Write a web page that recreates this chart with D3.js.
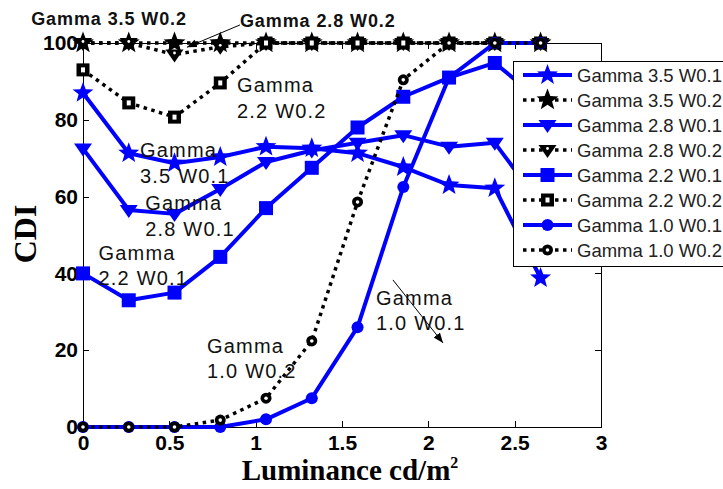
<!DOCTYPE html>
<html>
<head>
<meta charset="utf-8">
<script src="https://cdn.jsdelivr.net/npm/d3@7"></script>
<style>
body { margin: 0; background: #fff; }
text { font-family: Arial, "Liberation Sans", sans-serif; }
.axis path, .axis line { stroke: #000; stroke-width: 1px; shape-rendering: crispEdges; }
.axis text { font-size: 21px; font-weight: bold; fill: #000; }
.title { font-family: "Liberation Serif", "Times New Roman", serif; font-weight: bold; }
</style>
</head>
<body>
<div id="chart-area"></div>
<script>
// values
var luminance = [0, 0.265, 0.53, 0.795, 1.06, 1.325, 1.59, 1.855, 2.12, 2.385, 2.65];

var g35w1 = [87, 71.3, 68.7, 70.3, 73, 72.6, 71.3, 67.7, 63, 62.2, 38.8];
var g35w2 = [100, 100, 100, 100, 100, 100, 100, 100, 100, 100, 100];
var g28w1 = [72.5, 56.5, 55.5, 62, 69, 72, 74, 76, 73, 74, 58];
var g28w2 = [100, 100, 97, 99, 100, 100, 100, 100, 100, 100, 100];
var g22w1 = [40, 33, 35, 44.3, 57, 67.5, 78, 86, 91, 94.8, 85];
var g22w2 = [93, 84.4, 80.7, 89.6, 100, 100, 100, 100, 100, 100, 100];
var g10w1 = [0, 0, 0, 0, 2, 7.5, 26, 62.5, 91, 100, 100];
var g10w2 = [0, 0, 0, 1.8, 7.5, 22.4, 58.6, 90.4, 100, 100, 100];

var seriesNames = ["Gamma 3.5 W0.1", "Gamma 3.5 W0.2", "Gamma 2.8 W0.1", "Gamma 2.8 W0.2",
	"Gamma 2.2 W0.1", "Gamma 2.2 W0.2", "Gamma 1.0 W0.1", "Gamma 1.0 W0.2"];
var seriesValues = [g35w1, g35w2, g28w1, g28w2, g22w1, g22w2, g10w1, g10w2];
var seriesMarkers = ["star", "star", "tri", "tri", "square", "square", "circle", "circle"];

var xTicks = [0, 0.5, 1, 1.5, 2, 2.5, 3];
var yTicks = [0, 20, 40, 60, 80, 100];

// text labels placed in data units
var notes = [
	{ lines: ["Gamma 3.5 W0.2"], x: -0.3, y: 104.7, bold: true },
	{ lines: ["Gamma 2.8 W0.2"], x: 0.909, y: 104.2, bold: true },
	{ lines: ["Gamma", "2.2 W0.2"], x: 0.892, y: 87.2 },
	{ lines: ["Gamma", "3.5 W0.1"], x: 0.33, y: 70.3 },
	{ lines: ["Gamma", "2.8 W0.1"], x: 0.36, y: 56.5 },
	{ lines: ["Gamma", "2.2 W0.1"], x: 0.09, y: 43.5 },
	{ lines: ["Gamma", "1.0 W0.2"], x: 0.718, y: 19.3 },
	{ lines: ["Gamma", "1.0 W0.1"], x: 1.697, y: 31.8 }
];
var arrows = [
	{ x1: 0.909, y1: 104.7, x2: 0.602, y2: 98.9 },
	{ x1: 1.795, y1: 38.3, x2: 2.085, y2: 21.9 }
];

var margin = {
		top: 43,
		right: 122,
		bottom: 62,
		left: 83
	};
var width = 723 - margin.left - margin.right,
	height = 489 - margin.top - margin.bottom;

var svg = d3.select("#chart-area")
		.append("svg")
			.attr("width", 723)
			.attr("height", 489);

var g = svg.append("g")
		.attr("transform", "translate(" + margin.left + ", " + margin.top + ")");

var x = d3.scaleLinear()
			.domain([0, 3])
			.range([0, width]);

var y = d3.scaleLinear()
			.domain([0, 100])
			.range([height, 0]);

// axes (ticks point inward, box on)
g.append("g")
	.attr("class", "x axis")
	.attr("transform", "translate(0, " + height + ")")
	.call(d3.axisBottom(x).tickValues(xTicks).tickFormat(d3.format("")).tickSizeInner(-6).tickSizeOuter(0).tickPadding(8));

g.append("g")
	.attr("class", "x axis")
	.call(d3.axisTop(x).tickValues(xTicks).tickFormat("").tickSizeInner(-6).tickSizeOuter(0));

g.append("g")
	.attr("class", "y axis")
	.call(d3.axisLeft(y).tickValues(yTicks).tickSizeInner(-6).tickSizeOuter(0).tickPadding(5));

g.append("g")
	.attr("class", "y axis")
	.attr("transform", "translate(" + width + ", 0)")
	.call(d3.axisRight(y).tickValues(yTicks).tickFormat("").tickSizeInner(-6).tickSizeOuter(0));

// marker shapes
function starPath(R) {
	var pts = [];
	for (var i = 0; i < 10; i++) {
		var r = i % 2 ? R * 0.42 : R;
		var a = -Math.PI / 2 + i * Math.PI / 5;
		pts.push([r * Math.cos(a), r * Math.sin(a)]);
	}
	return "M" + pts.join("L") + "Z";
}

function drawMarker(sel, type, black) {
	var col = black ? "#000" : "#0000ff";
	if (type == "star") {
		sel.append("path").attr("d", starPath(black ? 11.5 : 11)).attr("fill", col);
	} else if (type == "tri") {
		sel.append("path").attr("d", "M-9,-5L9,-5L0,8Z").attr("fill", col);
		if (black) sel.append("circle").attr("cx", 0).attr("cy", -1.5).attr("r", 1.4).attr("fill", "#fff");
	} else if (type == "square") {
		var s = black ? 6.5 : 7;
		sel.append("rect").attr("x", -s).attr("y", -s).attr("width", 2 * s).attr("height", 2 * s).attr("fill", col);
		if (black) sel.append("rect").attr("x", -2).attr("y", -2.5).attr("width", 4).attr("height", 5).attr("fill", "#fff");
	} else {
		sel.append("circle").attr("r", black ? 5.5 : 6).attr("fill", col);
		if (black) sel.append("circle").attr("r", 1.8).attr("fill", "#fff");
	}
}

var line = d3.line()
	.x(function(d) { return x(d[0]); })
	.y(function(d) { return y(d[1]); });

seriesValues.forEach(function(vals, i) {
	var black = i % 2 == 1;
	var pts = luminance.map(function(l, j) { return [l, vals[j]]; });

	g.append("path")
		.attr("fill", "none")
		.attr("stroke", black ? "#000" : "#0000ff")
		.attr("stroke-width", black ? 3.5 : 4)
		.attr("stroke-dasharray", black ? "3.5,4.5" : null)
		.attr("stroke-linejoin", "round")
		.attr("d", line(pts));

	g.selectAll(".m" + i)
		.data(pts)
		.enter()
			.append("g")
				.attr("class", "m" + i)
				.attr("transform", function(d) { return "translate(" + x(d[0]) + "," + y(d[1]) + ")"; })
				.each(function() { drawMarker(d3.select(this), seriesMarkers[i], black); });
});

// annotations
notes.forEach(function(n) {
	var t = g.append("text")
		.attr("x", x(n.x))
		.attr("y", y(n.y))
		.attr("font-size", n.bold ? "18px" : "20px")
		.attr("font-weight", n.bold ? "bold" : "normal")
		.attr("letter-spacing", n.bold ? "0.9px" : "1.2px")
		.attr("fill", "#111");
	n.lines.forEach(function(s, k) {
		t.append("tspan")
			.attr("x", x(n.x))
			.attr("dy", k == 0 ? 0 : 25.5)
			.text(s);
	});
});

svg.append("defs").append("marker")
	.attr("id", "head")
	.attr("viewBox", "0 0 10 10")
	.attr("refX", 10)
	.attr("refY", 5)
	.attr("markerWidth", 10)
	.attr("markerHeight", 10)
	.attr("markerUnits", "userSpaceOnUse")
	.attr("orient", "auto")
	.append("path")
		.attr("d", "M0,1L10,5L0,9Z")
		.attr("fill", "#000");

arrows.forEach(function(a) {
	g.append("line")
		.attr("x1", x(a.x1)).attr("y1", y(a.y1))
		.attr("x2", x(a.x2)).attr("y2", y(a.y2))
		.attr("stroke", "#000")
		.attr("stroke-width", 1)
		.attr("marker-end", "url(#head)");
});

// legend
var legend = svg.append("g")
	.attr("transform", "translate(513, 61)");

legend.append("rect")
	.attr("x", 0.5)
	.attr("y", 0.5)
	.attr("width", 240)
	.attr("height", 205)
	.attr("fill", "#fff")
	.attr("stroke", "#000")
	.attr("stroke-width", 1);

seriesNames.forEach(function(name, i) {
	var black = i % 2 == 1;
	var row = legend.append("g")
		.attr("transform", "translate(0, " + (14 + i * 25) + ")");

	row.append("line")
		.attr("x1", 10).attr("x2", 59)
		.attr("stroke", black ? "#000" : "#0000ff")
		.attr("stroke-width", black ? 3.5 : 4)
		.attr("stroke-dasharray", black ? "3.5,4.5" : null);

	drawMarker(row.append("g").attr("transform", "translate(34.5, 0)"), seriesMarkers[i], black);

	row.append("text")
		.attr("x", 64)
		.attr("y", 7)
		.attr("font-size", "18.5px")
		.attr("fill", "#222")
		.text(name);
});

// axis titles
svg.append("text")
	.attr("class", "title")
	.attr("x", 350)
	.attr("y", 480)
	.attr("text-anchor", "middle")
	.attr("font-size", "29px")
	.text("Luminance cd/m")
	.append("tspan")
		.attr("font-size", "16px")
		.attr("dy", -12)
		.text("2");

svg.append("text")
	.attr("class", "title")
	.attr("transform", "translate(36, 234) rotate(-90)")
	.attr("text-anchor", "middle")
	.attr("font-size", "32px")
	.text("CDI");
</script>
</body>
</html>
